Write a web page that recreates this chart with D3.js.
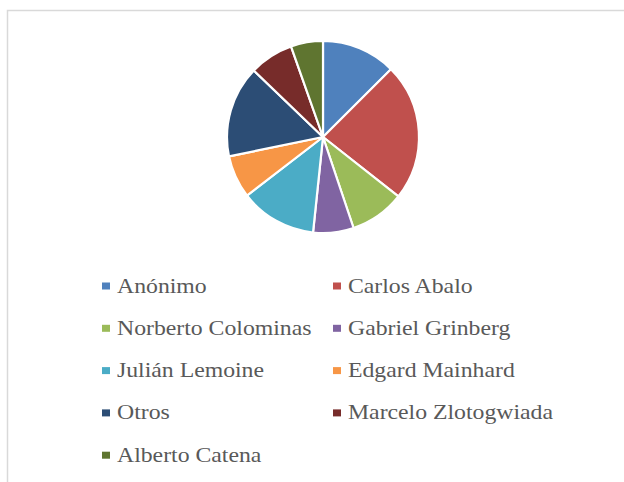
<!DOCTYPE html>
<html>
<head>
<meta charset="utf-8">
<script src="https://cdn.jsdelivr.net/npm/d3@7"></script>
<style>
  body { margin: 0; background: #fff; }
  svg { display: block; }
</style>
</head>
<body>
<svg width="624" height="482"></svg>
<script>
const names = ['Anónimo', 'Carlos Abalo', 'Norberto Colominas', 'Gabriel Grinberg', 'Julián Lemoine',
               'Edgard Mainhard', 'Otros', 'Marcelo Zlotogwiada', 'Alberto Catena'];
const values = [12.5, 23.1, 9.2, 6.8, 12.9, 7.2, 15.4, 7.4, 5.4];
const colors = ['#4f81bd', '#c0504d', '#9bbb59', '#8064a2', '#4bacc6',
                '#f79646', '#2c4d75', '#772c2a', '#5f7530'];

const svg = d3.select('svg');
const data = names.map((n, i) => ({name: n, value: values[i]}));

// chart frame
svg.append('rect')
    .attr('x', 7.5).attr('y', 10.5)
    .attr('width', 640).attr('height', 500)
    .attr('fill', 'none')
    .attr('stroke', '#d9d9d9')
    .attr('stroke-width', 1.5);

const color = d3.scaleOrdinal().domain(names).range(colors);

const pie = d3.pie().sort(null).value(d => d.value);
const arc = d3.arc().innerRadius(0).outerRadius(96);

const g = svg.append('g').attr('transform', 'translate(323,137)');

g.selectAll('path')
    .data(pie(data))
    .enter()
    .append('path')
    .attr('d', arc)
    .attr('fill', d => color(d.data.name))
    .attr('stroke', '#fff')
    .attr('stroke-width', 2.2)
    .attr('stroke-linejoin', 'round');

// legend, two columns
const legend = svg.append('g');
const item = legend.selectAll('g')
    .data(data)
    .enter()
    .append('g')
    .attr('transform', (d, i) => 'translate(' + (i % 2 ? 333 : 102) + ',' + (292.5 + Math.floor(i / 2) * 42.3) + ')');

item.append('rect')
    .attr('x', 0).attr('y', -10)
    .attr('width', 8).attr('height', 7)
    .attr('fill', d => color(d.name));

item.append('text')
    .attr('transform', 'translate(15,0) scale(1.08,1)')
    .attr('font-family', 'Liberation Serif, Times New Roman, serif')
    .attr('font-size', 22)
    .attr('fill', '#595959')
    .text(d => d.name);
</script>
</body>
</html>
